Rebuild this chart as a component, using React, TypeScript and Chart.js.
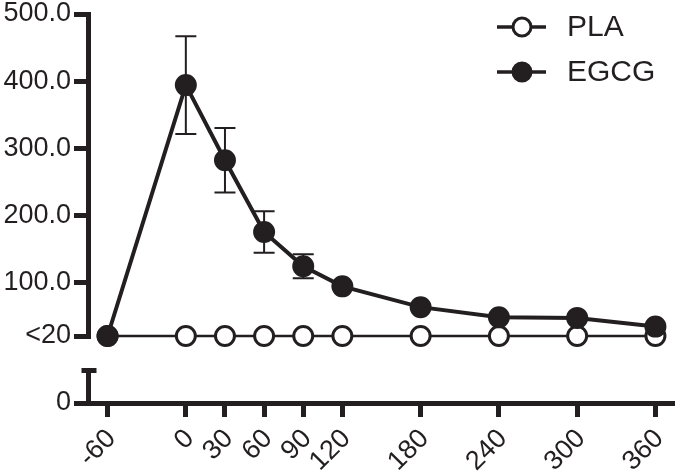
import React, { useEffect, useRef } from 'react';
import { Chart, registerables } from 'chart.js';

Chart.register(...registerables);

const timePoints = [-60, 0, 30, 60, 90, 120, 180, 240, 300, 360];
const plaValues = [20, 20, 20, 20, 20, 20, 20, 20, 20, 20];
const egcgValues = [20, 394, 282, 175, 124, 94, 63, 48, 47, 34];
const egcgErrors = [0, 73, 48, 31, 18, 0, 0, 0, 0, 0];
const xTicks = [-60, 0, 30, 60, 90, 120, 180, 240, 300, 360];
const yTicksUpper = [20, 100, 200, 300, 400, 500];
const yTicksLower = [0];
const seriesLabels = ['PLA', 'EGCG'];

const INK = '#231f20';
const FONT_FAMILY = '"Liberation Sans", Arial, Helvetica, sans-serif';
const FONT_SIZE = 27;
const LEGEND_FONT_SIZE = 30;

const errorBarPlugin = {
  id: 'errorBars',
  beforeDatasetsDraw(chart: any) {
    const ctx = chart.ctx;
    const xs = chart.scales.x;
    const ys = chart.scales.y;
    ctx.save();
    ctx.strokeStyle = INK;
    ctx.lineWidth = 2;
    timePoints.forEach((t, i) => {
      const e = egcgErrors[i];
      if (!e) return;
      const x = xs.getPixelForValue(t);
      const yT = ys.getPixelForValue(egcgValues[i] + e);
      const yB = ys.getPixelForValue(egcgValues[i] - e);
      ctx.beginPath();
      ctx.moveTo(x, yT);
      ctx.lineTo(x, yB);
      ctx.moveTo(x - 10.5, yT);
      ctx.lineTo(x + 10.5, yT);
      ctx.moveTo(x - 10.5, yB);
      ctx.lineTo(x + 10.5, yB);
      ctx.stroke();
    });
    ctx.restore();
  },
};

const axisCapPlugin = {
  id: 'axisCap',
  afterDraw(chart: any) {
    const ctx = chart.ctx;
    const lower = chart.scales.y0;
    const x = chart.chartArea.left;
    ctx.save();
    ctx.strokeStyle = INK;
    ctx.lineWidth = 5;
    ctx.beginPath();
    ctx.moveTo(x - 6.5, lower.top);
    ctx.lineTo(x + 8.5, lower.top);
    ctx.stroke();
    ctx.restore();
  },
};

// nudge the rotated x labels so their upper-right corner sits just below the tick
const labelShiftPlugin = {
  id: 'labelShift',
  beforeDraw(chart: any) {
    const items = chart.scales.x.getLabelItems();
    items.forEach((it: any) => {
      if (it._shifted) return;
      const tr = it.options.translation;
      it.options.translation = [tr[0] + 4, tr[1] + 2];
      it._shifted = true;
    });
  },
};

const legendPlugin = {
  id: 'customLegend',
  afterDraw(chart: any) {
    const ctx = chart.ctx;
    const rows = [27, 72];
    ctx.save();
    chart.data.datasets.forEach((ds: any, i: number) => {
      const y = rows[i];
      ctx.strokeStyle = INK;
      ctx.lineWidth = 3.5;
      ctx.beginPath();
      ctx.moveTo(497, y);
      ctx.lineTo(546, y);
      ctx.stroke();
      ctx.beginPath();
      ctx.arc(522, y, 9, 0, Math.PI * 2);
      ctx.fillStyle = ds.pointBackgroundColor;
      ctx.fill();
      ctx.lineWidth = 3;
      ctx.stroke();
      ctx.fillStyle = INK;
      ctx.font = `${LEGEND_FONT_SIZE}px ${FONT_FAMILY}`;
      ctx.textAlign = 'left';
      ctx.textBaseline = 'middle';
      ctx.fillText(ds.label, 567, y + 1);
    });
    ctx.restore();
  },
};

const tickFont = { family: FONT_FAMILY, size: FONT_SIZE };

const gridOpts = {
  display: true,
  drawOnChartArea: false,
  drawTicks: true,
  tickLength: 14,
  tickWidth: 5,
  tickColor: INK,
  lineWidth: 5,
  color: INK,
};

const borderOpts = { display: true, width: 5, color: INK };

const fitY = (s: any) => {
  s.width = 88;
  s.paddingTop = 0;
  s.paddingBottom = 0;
};

export default function App() {
  const ref = useRef<HTMLCanvasElement | null>(null);

  useEffect(() => {
    document.body.style.margin = '0';
    if (!ref.current) return;
    const chart = new Chart(ref.current, {
      type: 'line',
      data: {
        datasets: [
          {
            label: seriesLabels[0],
            data: timePoints.map((t, i) => ({ x: t, y: plaValues[i] })),
            yAxisID: 'y',
            xAxisID: 'x',
            order: 2,
            borderColor: INK,
            borderWidth: 2.3,
            pointRadius: 9.5,
            pointBorderWidth: 3,
            pointBackgroundColor: '#ffffff',
            pointBorderColor: INK,
            tension: 0,
            clip: false,
          },
          {
            label: seriesLabels[1],
            data: timePoints.map((t, i) => ({ x: t, y: egcgValues[i] })),
            yAxisID: 'y',
            xAxisID: 'x',
            order: 1,
            borderColor: INK,
            borderWidth: 4,
            pointRadius: 10,
            pointBorderWidth: 2,
            pointBackgroundColor: INK,
            pointBorderColor: INK,
            tension: 0,
            clip: false,
          },
        ],
      },
      options: {
        responsive: false,
        animation: false,
        devicePixelRatio: 1,
        layout: { autoPadding: false, padding: { top: 14, right: 0, bottom: 0, left: 0 } },
        plugins: { legend: { display: false }, tooltip: { enabled: false } },
        scales: {
          x: {
            type: 'linear',
            position: 'bottom',
            min: -75,
            max: 375,
            afterBuildTicks: (s: any) => {
              s.ticks = xTicks.map((v) => ({ value: v }));
            },
            afterFit: (s: any) => {
              s.height = 72;
              s.paddingLeft = 0;
              s.paddingRight = 0;
            },
            ticks: {
              minRotation: 45,
              maxRotation: 45,
              autoSkip: false,
              color: INK,
              font: tickFont,
              padding: 4,
              callback: (v: any) => String(v),
            },
            grid: gridOpts,
            border: borderOpts,
          },
          y0: {
            type: 'linear',
            position: 'left',
            stack: 'left',
            stackWeight: 32.5,
            min: 0,
            max: 10,
            afterBuildTicks: (s: any) => {
              s.ticks = yTicksLower.map((v) => ({ value: v }));
            },
            afterFit: fitY,
            ticks: { color: INK, font: tickFont, padding: 3, callback: (v: any) => String(v) },
            grid: gridOpts,
            border: borderOpts,
          },
          yGap: {
            type: 'linear',
            position: 'left',
            stack: 'left',
            stackWeight: 34.5,
            min: 0,
            max: 1,
            afterBuildTicks: (s: any) => {
              s.ticks = [];
            },
            afterFit: fitY,
            ticks: { display: false },
            grid: { display: false },
            border: { display: false },
          },
          y: {
            type: 'linear',
            position: 'left',
            stack: 'left',
            stackWeight: 322,
            min: 20,
            max: 500,
            afterBuildTicks: (s: any) => {
              s.ticks = yTicksUpper.map((v) => ({ value: v }));
            },
            afterFit: fitY,
            ticks: {
              color: INK,
              font: tickFont,
              padding: 3,
              callback: (v: any) => (v === 20 ? '<20' : Number(v).toFixed(1)),
            },
            grid: gridOpts,
            border: borderOpts,
          },
        },
      } as any,
      plugins: [errorBarPlugin, axisCapPlugin, labelShiftPlugin, legendPlugin],
    });
    return () => chart.destroy();
  }, []);

  return (
    <div style={{ width: 675, height: 475, position: 'relative' }}>
      <canvas ref={ref} width={675} height={475} style={{ display: 'block' }} />
    </div>
  );
}
